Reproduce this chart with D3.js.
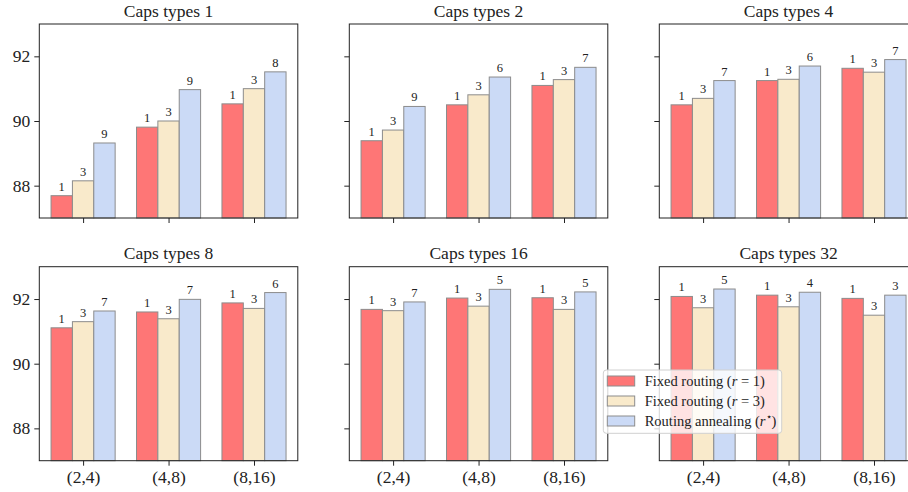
<!DOCTYPE html>
<html>
<head>
<meta charset="utf-8">
<script src="https://cdn.jsdelivr.net/npm/d3@7"></script>
<style>
  body { margin: 0; background: #fff; }
</style>
</head>
<body>
<div id="chart"></div>
<script>
// accuracy per caps type, groups (2,4) (4,8) (8,16)
const groups = ["(2,4)", "(4,8)", "(8,16)"];
const capsTypes = [1, 2, 4, 8, 16, 32];
const seriesNames = ["Fixed routing (r = 1)", "Fixed routing (r = 3)", "Routing annealing (r*)"];

const fixedR1 = [
    [87.69, 89.81, 90.53],
    [89.39, 90.50, 91.10],
    [90.50, 91.25, 91.63],
    [91.11, 91.60, 91.88],
    [91.68, 92.03, 92.04],
    [92.08, 92.12, 92.02]
];
const fixedR3 = [
    [88.15, 90.00, 91.00],
    [89.72, 90.81, 91.28],
    [90.70, 91.29, 91.51],
    [91.30, 91.39, 91.71],
    [91.64, 91.78, 91.68],
    [91.73, 91.76, 91.50]
];
const annealing = [
    [89.32, 90.97, 91.52],
    [90.45, 91.36, 91.66],
    [91.25, 91.70, 91.90],
    [91.63, 91.99, 92.20],
    [91.91, 92.30, 92.22],
    [92.31, 92.21, 92.12]
];
// r used by each bar (fixed ones are always 1 and 3)
const rStar = [
    [9, 9, 8],
    [9, 6, 7],
    [7, 6, 7],
    [7, 7, 6],
    [7, 5, 5],
    [5, 4, 3]
];
const yTicks = [88, 90, 92];

const width = 908, height = 492;
const colors = ["#fe7676", "#f9eacb", "#cbdaf6"];
const serif = "'Liberation Serif', 'DejaVu Serif', serif";

const svg = d3.select("#chart")
    .append("svg")
    .attr("width", width)
    .attr("height", height)
    .style("font-family", serif);

const panelLeft = [39.3, 349.3, 659.3];
const panelTop = [24, 266.7];
const pw = 258.5, ph = 194;
const barW = 0.25;

const x = d3.scaleLinear().domain([-0.5125, 2.5125]).range([0, pw]);
const y = d3.scaleLinear().domain([87, 93]).range([ph, 0]);

capsTypes.forEach(function (ct, p) {
    const col = p % 3, row = Math.floor(p / 3);
    const g = svg.append("g")
        .attr("transform", `translate(${panelLeft[col]},${panelTop[row]})`);

    const series = [fixedR1[p], fixedR3[p], annealing[p]];
    const labels = [[1, 1, 1], [3, 3, 3], rStar[p]];

    series.forEach(function (vals, s) {
        g.selectAll(".bar" + s)
            .data(vals)
            .enter()
            .append("rect")
            .attr("x", (d, i) => x(i + (s - 1) * barW - barW / 2))
            .attr("y", d => y(d))
            .attr("width", x(barW) - x(0))
            .attr("height", d => ph - y(d))
            .attr("fill", colors[s])
            .attr("stroke", "#8c8c8c")
            .attr("stroke-width", 1);

        g.selectAll(".lab" + s)
            .data(vals)
            .enter()
            .append("text")
            .attr("x", (d, i) => x(i + (s - 1) * barW))
            .attr("y", d => y(d) - 5)
            .attr("text-anchor", "middle")
            .style("font-family", serif)
            .style("font-size", "12.5px")
            .style("fill", "#222")
            .text((d, i) => labels[s][i]);
    });

    // axes
    const xAxis = d3.axisBottom(x)
        .tickValues([0, 1, 2])
        .tickSize(5)
        .tickSizeOuter(0)
        .tickFormat((d, i) => row === 1 ? groups[i] : "");
    const gx = g.append("g").attr("transform", `translate(0,${ph})`).call(xAxis);
    gx.attr("font-family", null).attr("font-size", null);
    gx.select(".domain").remove();
    gx.selectAll("text")
        .attr("dy", "0.8em")
        .style("font-family", serif)
        .style("font-size", "17.5px")
        .style("fill", "#222");
    gx.selectAll("line").attr("stroke", "#222");

    const yAxis = d3.axisLeft(y)
        .tickValues(yTicks)
        .tickSize(5)
        .tickSizeOuter(0)
        .tickFormat(d => col === 0 ? d : "");
    const gy = g.append("g").call(yAxis);
    gy.attr("font-family", null).attr("font-size", null);
    gy.select(".domain").remove();
    gy.selectAll("text")
        .attr("x", -9)
        .style("font-family", serif)
        .style("font-size", "17.5px")
        .style("fill", "#222");
    gy.selectAll("line").attr("stroke", "#222");

    g.append("rect")
        .attr("width", pw)
        .attr("height", ph)
        .attr("fill", "none")
        .attr("stroke", "#222")
        .attr("stroke-width", 1);

    g.append("text")
        .attr("x", pw / 2)
        .attr("y", -7.5)
        .attr("text-anchor", "middle")
        .style("font-family", serif)
        .style("font-size", "17.5px")
        .style("fill", "#222")
        .text("Caps types " + ct);
});

// legend
const leg = svg.append("g").attr("transform", "translate(603.3,370)");
leg.append("rect")
    .attr("width", 178.4)
    .attr("height", 63.3)
    .attr("rx", 3)
    .attr("fill", "white")
    .attr("fill-opacity", 0.8)
    .attr("stroke", "#d0d0d0");

seriesNames.forEach(function (name, s) {
    const cy = 11 + s * 20;
    leg.append("rect")
        .attr("x", 4)
        .attr("y", cy - 5)
        .attr("width", 27.4)
        .attr("height", 10)
        .attr("fill", colors[s])
        .attr("stroke", "#8c8c8c");
    const t = leg.append("text")
        .attr("x", 41.4)
        .attr("y", cy + 5)
        .style("font-family", serif)
        .style("font-size", "14.5px")
        .style("fill", "#222");
    const base = name.split("(")[0];
    t.append("tspan").text(base + "(");
    t.append("tspan").attr("font-style", "italic").text("r");
    if (s < 2) {
        t.append("tspan").text(" = " + (s === 0 ? 1 : 3) + ")");
    } else {
        t.append("tspan").style("font-size", "10px").attr("dy", -6).text("\u22C6");
        t.append("tspan").attr("dy", 6).text(")");
    }
});
</script>
</body>
</html>
